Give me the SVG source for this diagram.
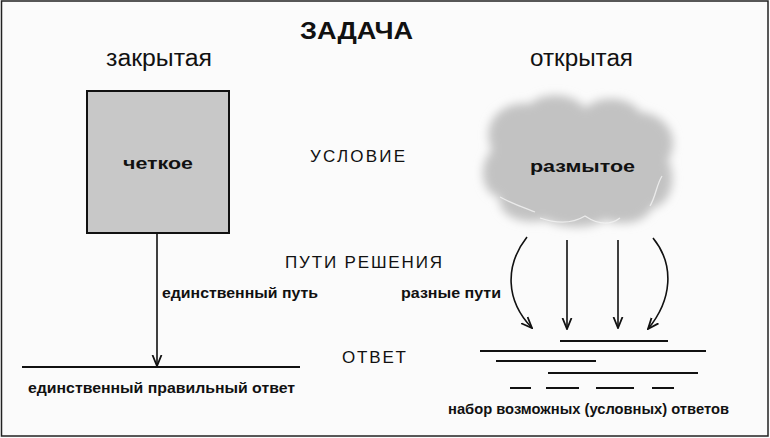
<svg xmlns="http://www.w3.org/2000/svg" width="770" height="438" viewBox="0 0 770 438">
<style>
text{font-family:"Liberation Sans",Arial,sans-serif;fill:#111}
.h{font-size:23px}
.c{font-size:17px}
.s{font-size:14px;font-weight:bold}
.b{font-weight:bold}
.ln{stroke:#111;stroke-width:2;fill:none}
.ar{stroke:#111;stroke-width:1.6;fill:none}
</style>
<defs>
<marker id="v" viewBox="0 0 12 12" refX="11" refY="6" markerWidth="12" markerHeight="12" markerUnits="userSpaceOnUse" orient="auto">
<path d="M0,1.5 L11,6 L0,10.5" fill="none" stroke="#111" stroke-width="1.8"/>
</marker>
<filter id="blur" x="-20%" y="-20%" width="140%" height="140%"><feGaussianBlur stdDeviation="5"/></filter>
</defs>
<rect x="0" y="0" width="770" height="438" fill="#fbfbfb"/>
<rect x="1.5" y="1" width="766.5" height="435" fill="none" stroke="#222" stroke-width="1.5"/>
<g id="title"><text class="b" x="300" y="39" font-size="23" textLength="113" lengthAdjust="spacingAndGlyphs">ЗАДАЧА</text></g>
<g id="closed-label"><text class="h" x="106" y="66" textLength="106" lengthAdjust="spacingAndGlyphs">закрытая</text></g>
<g id="open-label"><text class="h" x="530" y="66" textLength="103" lengthAdjust="spacingAndGlyphs">открытая</text></g>
<g id="clear">
<rect x="87" y="91" width="142" height="142" fill="#c8c8c8" stroke="#111" stroke-width="2"/>
<text class="b" x="123" y="169" font-size="17" textLength="70" lengthAdjust="spacingAndGlyphs">четкое</text>
</g>
<g id="condition"><text class="c" x="310" y="162" textLength="95" lengthAdjust="spacing">УСЛОВИЕ</text></g>
<g id="blurry">
<path d="M492,150 C480,125 500,100 530,104 C545,90 575,94 585,108 C600,94 630,96 640,112 C665,114 682,137 668,160 C678,180 670,205 652,208 C645,224 620,226 605,220 C590,230 560,228 545,220 C520,226 497,214 500,198 C480,192 478,165 492,150 Z" fill="#c2c2c2" filter="url(#blur)"/>
<path d="M500,197 C515,205 525,208 535,212 M540,218 C560,225 575,222 585,216 C600,226 612,224 620,218 M650,206 C656,196 656,186 662,176" fill="none" stroke="#f4f4f4" stroke-width="1.3" opacity="0.8"/>
<text class="b" x="530" y="172" font-size="17" textLength="105" lengthAdjust="spacingAndGlyphs">размытое</text>
</g>
<g id="paths-label"><text class="c" x="285" y="268" textLength="157" lengthAdjust="spacing">ПУТИ РЕШЕНИЯ</text></g>
<g id="single-path-label"><text class="s" x="162" y="298" textLength="156" lengthAdjust="spacingAndGlyphs">единственный путь</text></g>
<g id="diff-paths-label"><text class="s" x="401" y="298" textLength="100" lengthAdjust="spacingAndGlyphs">разные пути</text></g>
<g id="answer-label"><text class="c" x="342" y="363" textLength="64" lengthAdjust="spacing">ОТВЕТ</text></g>
<g id="single-answer">
<line class="ln" x1="22" y1="367" x2="300" y2="367"/>
<text class="s" x="28" y="393" textLength="267" lengthAdjust="spacingAndGlyphs">единственный правильный ответ</text>
</g>
<g id="answers-set">
<line class="ln" x1="560" y1="341" x2="668" y2="341"/>
<line class="ln" x1="480" y1="351" x2="706" y2="351"/>
<line class="ln" x1="496" y1="361" x2="596" y2="361"/>
<line class="ln" x1="548" y1="373" x2="698" y2="373"/>
<line class="ln" x1="510" y1="388" x2="531" y2="388"/>
<line class="ln" x1="546" y1="388" x2="579" y2="388"/>
<line class="ln" x1="596" y1="388" x2="634" y2="388"/>
<line class="ln" x1="652" y1="388" x2="674" y2="388"/>
<text class="s" x="448" y="414" textLength="281" lengthAdjust="spacingAndGlyphs">набор возможных (условных) ответов</text>
</g>
<g id="connectors">
<line class="ar" x1="157" y1="233" x2="157" y2="366" marker-end="url(#v)"/>
<path class="ar" d="M527,237 C505,265 505,300 532,328" marker-end="url(#v)"/>
<line class="ar" x1="567" y1="240" x2="567" y2="329" marker-end="url(#v)"/>
<line class="ar" x1="618" y1="240" x2="618" y2="328" marker-end="url(#v)"/>
<path class="ar" d="M653,238 C675,265 672,300 648,329" marker-end="url(#v)"/>
</g>
</svg>
